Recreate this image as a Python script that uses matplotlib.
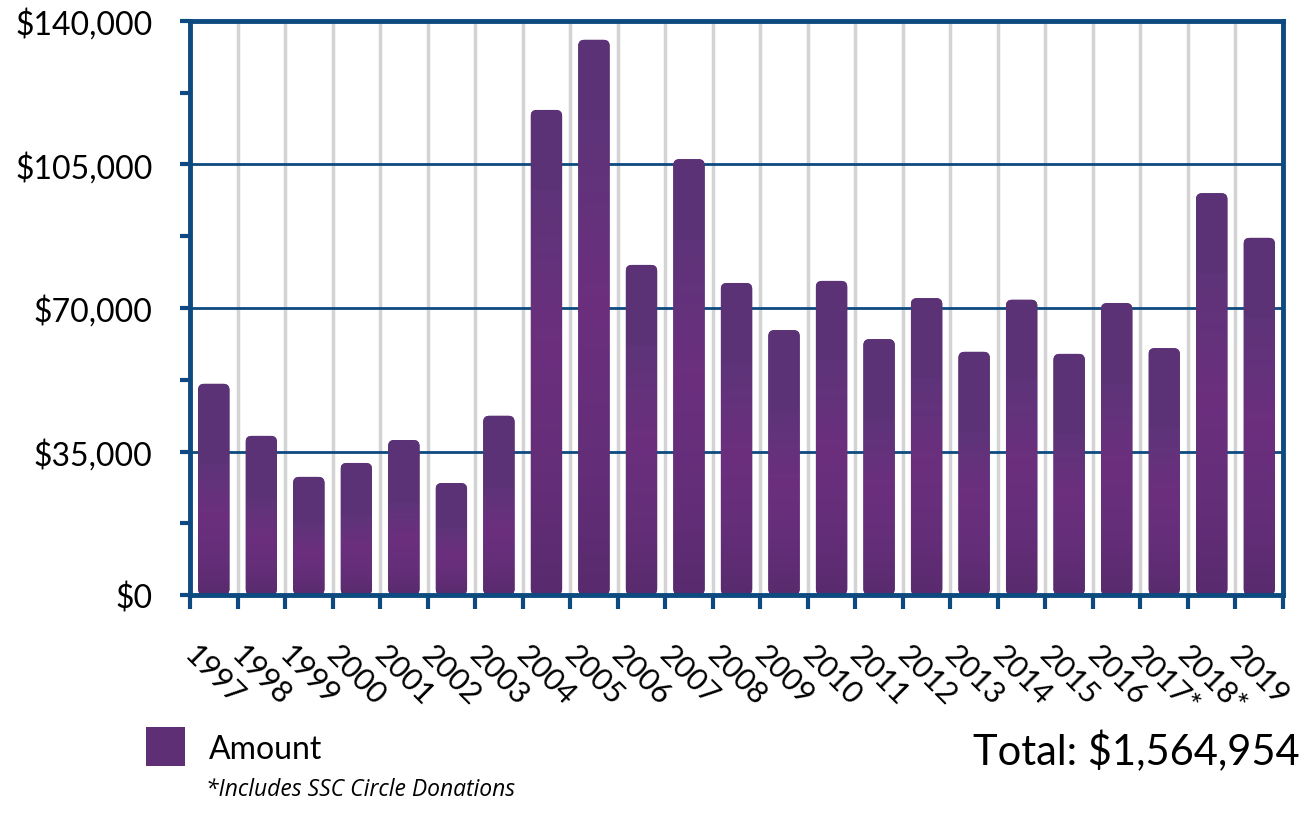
import matplotlib
matplotlib.use("Agg")
import matplotlib.pyplot as plt
import numpy as np
from matplotlib.colors import LinearSegmentedColormap
from matplotlib.patches import FancyBboxPatch, Rectangle
from matplotlib.ticker import FuncFormatter, MultipleLocator

years = ["1997", "1998", "1999", "2000", "2001", "2002", "2003", "2004",
         "2005", "2006", "2007", "2008", "2009", "2010", "2011", "2012",
         "2013", "2014", "2015", "2016", "2017*", "2018*", "2019"]
amounts = [51500, 38800, 28800, 32200, 37800, 27300, 43700, 118300,
           135400, 80500, 106300, 76100, 64600, 76600, 62400, 72400,
           59300, 72000, 58800, 71200, 60200, 98000, 87100]
total_label = "Total: $1,564,954"
legend_label = "Amount"
footnote = "*Includes SSC Circle Donations"

BLUE = "#0d4a80"
GRID_GRAY = "#d3d3d3"
FONT = ["Lato", "DejaVu Sans"]

plt.rcParams["font.family"] = FONT

fig = plt.figure(figsize=(13.13, 8.29), dpi=100)
ax = fig.add_axes([190 / 1313, 1 - 596 / 829, 1093 / 1313, 574 / 829])

ymax = 140000
ax.set_xlim(-0.5, len(years) - 0.5)
ax.set_ylim(0, ymax)

# pixel scale, used for rounded corners
px_x = len(years) / 1093
px_y = ymax / 574

bar_cmap = LinearSegmentedColormap.from_list(
    "bar", ["#552a6a", "#5a2b6f", "#652e79", "#6b2f7e", "#5e3479", "#5b3276"])

width = 0.66
for i, v in enumerate(amounts):
    x0 = i - width / 2
    patch = FancyBboxPatch(
        (x0, 0), width, v,
        boxstyle=f"round,pad=0,rounding_size={6 * px_x}",
        mutation_aspect=px_y / px_x,
        facecolor="#5e2f74", edgecolor="none", zorder=3)
    ax.add_patch(patch)
    # vertical shading: magenta body, muted darker band at the top
    band = min(80 * px_y, v * 0.4)
    split = (v - band) / v
    t = np.linspace(0, 1, 200)
    vals = np.where(t < split, 0.15 + 0.65 * (t / max(split, 1e-6)) ** 0.8,
                    0.95)
    img = ax.imshow(vals[:, None], cmap=bar_cmap, vmin=0, vmax=1,
                    extent=(x0, x0 + width, 0, v), origin="lower",
                    aspect="auto", zorder=3, interpolation="bilinear")
    img.set_clip_path(patch)

ax.set_xlim(-0.5, len(years) - 0.5)
ax.set_ylim(0, ymax)

# gridlines
ax.set_axisbelow(True)
ax.yaxis.set_major_locator(MultipleLocator(35000))
ax.yaxis.set_minor_locator(MultipleLocator(17500))
ax.grid(axis="y", which="major", color=BLUE, linewidth=2, zorder=1)
ax.set_xticks(np.arange(len(years)))
ax.set_xticks(np.arange(len(years) + 1) - 0.5, minor=True)
ax.grid(axis="x", which="minor", color=GRID_GRAY, linewidth=2.5, zorder=0)

ax.yaxis.set_major_formatter(FuncFormatter(lambda v, p: f"${v:,.0f}"))
ax.tick_params(axis="y", which="major", length=7, width=3, color=BLUE,
               labelsize=23, pad=20)
ax.tick_params(axis="y", which="minor", length=7, width=3, color=BLUE)
ax.tick_params(axis="x", which="major", length=0, pad=32)
ax.tick_params(axis="x", which="minor", length=10, width=3, color=BLUE)
ax.set_xticklabels(years, rotation=-45, ha="center", va="top", fontsize=22)

for s in ax.spines.values():
    s.set_color(BLUE)
    s.set_linewidth(3.5)
    s.set_zorder(5)

# legend
fig.patches.append(Rectangle((146 / 1313, 1 - 767 / 829), 39 / 1313, 39 / 829,
                             transform=fig.transFigure, facecolor="#5e2f74",
                             edgecolor="none"))
fig.text(209 / 1313, 1 - 750 / 829, legend_label, fontsize=23,
         va="center", ha="left")
fig.text(1300 / 1313, 1 - 752 / 829, total_label, fontsize=30,
         va="center", ha="right")
fig.text(206 / 1313, 1 - 790 / 829, footnote, fontsize=16.5, style="italic",
         va="center", ha="left", family=["Open Sans", "DejaVu Sans"])

fig.savefig("out.png", dpi=100)
